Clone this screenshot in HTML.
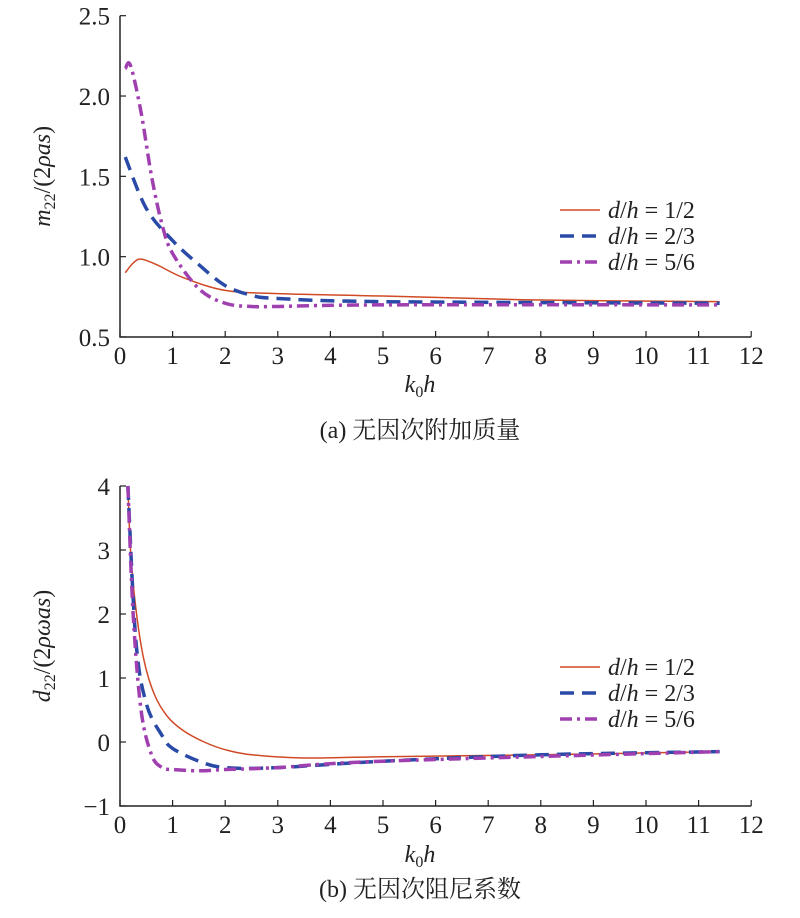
<!DOCTYPE html>
<html><head><meta charset="utf-8"><style>
body{margin:0;background:#fff;}
svg text{font-family:"Liberation Serif","Noto Serif CJK SC",serif;fill:#222;}
</style></head><body>
<svg id="c" width="800" height="913" viewBox="0 0 800 913" xmlns="http://www.w3.org/2000/svg"></svg>
<script>
const xTicks=[0,1,2,3,4,5,6,7,8,9,10,11,12];
const yTicksA=[0.5,1.0,1.5,2.0,2.5];
const yTicksB=[-1,0,1,2,3,4];
const seriesNames=["d/h = 1/2","d/h = 2/3","d/h = 5/6"];
const aRedX=[0.1,0.25,0.4,0.7,1.2,2,3,5,8,11.4];
const aRedY=[0.9,0.96,0.985,0.95,0.87,0.79,0.77,0.755,0.73,0.72];
const aBlueX=[0.1,0.5,1,1.5,2,2.5,3,5,11.4];
const aBlueY=[1.62,1.3,1.1,0.95,0.82,0.76,0.74,0.72,0.71];
const aPurX=[0.1,0.2,0.4,0.6,0.8,1,1.5,2,2.5,3,5,11.4];
const aPurY=[2.17,2.19,1.9,1.5,1.2,1.02,0.8,0.71,0.69,0.69,0.70,0.70];
const bRedX=[0.15,0.2,0.3,0.45,0.65,0.9,1.2,1.6,2,2.5,3.5,5,8,11.4];
const bRedY=[4,3,2.1,1.3,0.75,0.4,0.18,0.0,-0.12,-0.2,-0.25,-0.23,-0.2,-0.15];
const bBlueX=[0.15,0.3,0.5,0.8,1,1.5,2,3,5,8,11.4];
const bBlueY=[4,1.6,0.6,0.1,-0.1,-0.3,-0.4,-0.4,-0.3,-0.2,-0.15];
const bPurX=[0.15,0.25,0.4,0.6,0.8,1,1.5,2,3,5,11.4];
const bPurY=[4,2,0.5,-0.2,-0.4,-0.43,-0.45,-0.43,-0.4,-0.3,-0.15];

const svg=document.getElementById('c');
const NS="http://www.w3.org/2000/svg";
function el(t,a,p){const e=document.createElementNS(NS,t);for(const k in a)e.setAttribute(k,a[k]);(p||svg).appendChild(e);return e;}
const colors=["#d04a26","#2a4aa8","#a040b0"];
const widths=[1.5,3.5,3.5];
const dashes=["none","14 8","12 5 3 5"];

function panel(id,yTicks,ymin,ymax,yTop,yBot,fmt,series,ylabel,xlabelY,caption,capY,legY){
  const g=el('g',{});
  
  
  const x0=120,ux=52.6;
  const sx=v=>x0+v*ux;
  const sy=v=>yBot-(v-ymin)/(ymax-ymin)*(yBot-yTop);
  const ax=el('path',{d:`M${x0} ${yTop} V${yBot} H${sx(12)}`,stroke:'#222','stroke-width':1.5,fill:'none'},g);
  
  
  xTicks.forEach(t=>{
    el('line',{x1:sx(t),x2:sx(t),y1:yBot,y2:yBot-6,stroke:'#222','stroke-width':1.2},g);
    const tx=el('text',{x:sx(t),y:yBot+27,'text-anchor':'middle','font-size':25},g);
    tx.textContent=t;
    
    
  });
  yTicks.forEach(t=>{
    el('line',{x1:x0,x2:x0+6,y1:sy(t),y2:sy(t),stroke:'#222','stroke-width':1.2},g);
    const tx=el('text',{x:x0-10,y:sy(t)+9,'text-anchor':'end','font-size':25},g);
    tx.textContent=fmt(t);
    
    
  });
  series.forEach((s,i)=>{
    const pts=s[0].map((x,j)=>[sx(x),sy(s[1][j])]);
    let d=`M${pts[0][0]} ${pts[0][1]}`;
    for(let j=0;j<pts.length-1;j++){
      const p0=pts[j-1]||pts[j],p1=pts[j],p2=pts[j+1],p3=pts[j+2]||p2;
      d+=` C${p1[0]+(p2[0]-p0[0])/6} ${p1[1]+(p2[1]-p0[1])/6} ${p2[0]-(p3[0]-p1[0])/6} ${p2[1]-(p3[1]-p1[1])/6} ${p2[0]} ${p2[1]}`;
    }
    const p=el('path',{d,stroke:colors[i],'stroke-width':widths[i],fill:'none','stroke-dasharray':dashes[i]},g);
    
    
    const ly=legY+i*26;
    const ll=el('line',{x1:560,x2:600,y1:ly,y2:ly,stroke:colors[i],'stroke-width':widths[i],'stroke-dasharray':dashes[i]},g);
    
    
    const lt=el('text',{x:608,y:ly+8,'font-size':24},g);
    lt.innerHTML=`<tspan font-style="italic">d</tspan>/<tspan font-style="italic">h</tspan> = ${seriesNames[i].split('= ')[1]}`;
    
    
  });
  const yl=el('text',{transform:`translate(50 ${(yTop+yBot)/2}) rotate(-90)`,'text-anchor':'middle','font-size':24},g);
  yl.innerHTML=ylabel;
  
  
  const xl=el('text',{x:420,y:xlabelY,'text-anchor':'middle','font-size':24},g);
  xl.innerHTML='<tspan font-style="italic">k</tspan><tspan font-size="16" dy="5">0</tspan><tspan font-style="italic" dy="-5">h</tspan>';
  
  
  const cp=el('text',{x:420,y:capY,'text-anchor':'middle','font-size':24},g);
  cp.textContent=caption;
  
  
}
panel('panel-a-added-mass',yTicksA,0.5,2.5,15.7,337,t=>t.toFixed(1),
  [[aRedX,aRedY],[aBlueX,aBlueY],[aPurX,aPurY]],
  '<tspan font-style="italic">m</tspan><tspan font-size="16" dy="5">22</tspan><tspan dy="-5">/(2</tspan><tspan font-style="italic">ρas</tspan>)',
  392,'(a) 无因次附加质量',438,210);
panel('panel-b-damping',yTicksB,-1,4,486,806,t=>t<0?'−'+(-t):String(t),
  [[bRedX,bRedY],[bBlueX,bBlueY],[bPurX,bPurY]],
  '<tspan font-style="italic">d</tspan><tspan font-size="16" dy="5">22</tspan><tspan dy="-5">/(2</tspan><tspan font-style="italic">ρωas</tspan>)',
  862,'(b) 无因次阻尼系数',897,667);
</script>
</body></html>
